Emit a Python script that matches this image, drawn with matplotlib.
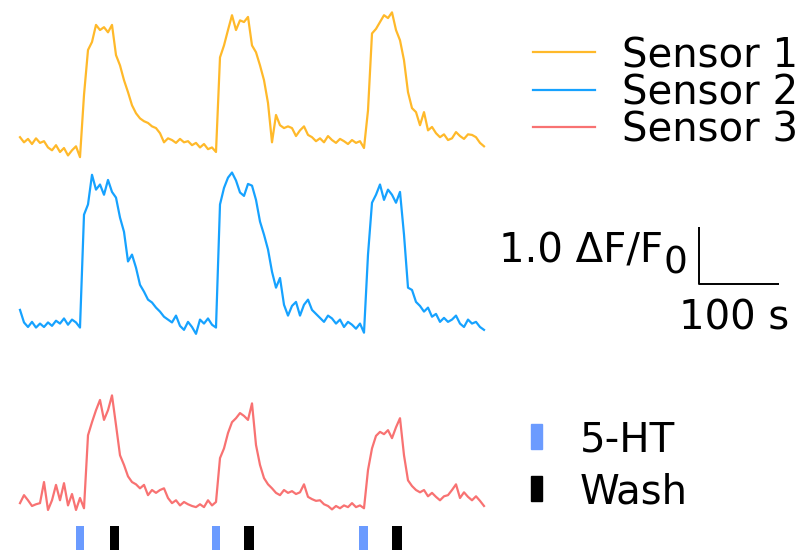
import numpy as np
import matplotlib
matplotlib.use('Agg')
import matplotlib.pyplot as plt
from matplotlib.patches import Rectangle

sample_step = 5.0
sensor1 = [0.14, 0.05, 0.11, 0.02, 0.12, 0.04, 0.07, -0.04, -0.09, 0.00, -0.12, -0.05, -0.18, -0.09, -0.02, -0.21,
           0.88, 1.67, 1.81, 2.11, 2.02, 2.07, 1.98, 2.11, 1.58, 1.40, 1.14, 0.93, 0.70, 0.56, 0.47, 0.42,
           0.39, 0.33, 0.30, 0.21, 0.05, 0.12, 0.09, 0.04, 0.11, 0.05, 0.07, 0.00, 0.04, -0.04, 0.02, -0.07,
           -0.04, -0.12, 1.54, 1.75, 2.02, 2.28, 2.02, 2.19, 2.16, 2.25, 1.75, 1.63, 1.40, 1.14, 0.74, 0.05,
           0.53, 0.35, 0.30, 0.33, 0.30, 0.16, 0.26, 0.33, 0.18, 0.14, 0.07, 0.12, 0.05, 0.16, 0.09, 0.04,
           0.11, 0.07, 0.02, 0.09, 0.04, 0.07, -0.05, 0.61, 1.96, 2.04, 2.16, 2.28, 2.23, 2.33, 2.02, 1.84,
           1.49, 0.93, 0.65, 0.58, 0.35, 0.58, 0.26, 0.32, 0.21, 0.14, 0.19, 0.09, 0.12, 0.23, 0.16, 0.11,
           0.19, 0.18, 0.14, 0.04, -0.02]
sensor2 = [0.26, 0.04, -0.04, 0.05, -0.05, 0.02, -0.04, 0.04, -0.02, 0.07, 0.02, 0.11, 0.00, 0.09, 0.04, -0.05,
           1.93, 2.11, 2.63, 2.37, 2.46, 2.28, 2.54, 2.33, 2.23, 1.88, 1.63, 1.11, 1.23, 1.00, 0.70, 0.58,
           0.44, 0.39, 0.30, 0.23, 0.14, 0.09, 0.04, 0.16, -0.02, -0.09, 0.05, -0.04, -0.16, 0.09, 0.02, 0.11,
           0.00, -0.05, 2.11, 2.40, 2.58, 2.67, 2.53, 2.32, 2.26, 2.47, 2.44, 2.19, 1.81, 1.58, 1.32, 0.93,
           0.65, 0.82, 0.35, 0.16, 0.33, 0.40, 0.16, 0.35, 0.44, 0.26, 0.19, 0.12, 0.05, 0.16, 0.11, 0.02,
           0.09, -0.04, 0.05, 0.00, -0.07, 0.02, -0.14, 1.23, 2.14, 2.28, 2.46, 2.19, 2.37, 2.28, 2.14, 2.33,
           1.58, 0.65, 0.61, 0.40, 0.33, 0.23, 0.30, 0.14, 0.19, 0.05, 0.12, 0.05, 0.09, 0.16, 0.02, -0.04,
           0.09, 0.02, 0.05, -0.04, -0.09]
sensor3 = [0.00, 0.14, 0.05, -0.05, -0.02, 0.00, 0.37, -0.12, 0.05, 0.32, 0.05, 0.35, -0.04, 0.16, -0.12, 0.09,
           -0.09, 1.19, 1.42, 1.63, 1.81, 1.46, 1.63, 1.89, 1.37, 0.84, 0.67, 0.47, 0.37, 0.33, 0.26, 0.32,
           0.14, 0.23, 0.18, 0.23, 0.26, 0.09, 0.00, 0.05, -0.04, 0.02, -0.02, -0.05, -0.07, -0.02, -0.07, 0.05,
           -0.04, 0.02, 0.79, 0.96, 1.23, 1.42, 1.49, 1.58, 1.53, 1.46, 1.75, 1.02, 0.67, 0.44, 0.33, 0.26,
           0.18, 0.14, 0.23, 0.18, 0.21, 0.16, 0.19, 0.33, 0.11, 0.07, 0.04, 0.05, -0.02, -0.05, -0.11, -0.05,
           -0.09, -0.04, -0.07, 0.00, -0.07, -0.04, -0.09, 0.58, 0.96, 1.18, 1.25, 1.21, 1.28, 1.14, 1.33, 1.49,
           0.84, 0.40, 0.30, 0.23, 0.19, 0.23, 0.12, 0.18, 0.11, 0.05, 0.12, 0.14, 0.23, 0.33, 0.09, 0.19,
           0.11, 0.05, 0.12, 0.04, -0.05]

labels = ['Sensor 1', 'Sensor 2', 'Sensor 3']
colors = ['#FFB92A', '#16A2FF', '#F87272']
offsets = [7.19, 4.04, 0.91]   # vertical stacking, in dF/F0

ht_times = [75, 245, 429]      # 5-HT application (s)
wash_times = [118, 286, 471]   # wash (s)

FS = 29
W, H = 810, 555
fig = plt.figure(figsize=(W / 100, H / 100), dpi=100)
ax = fig.add_axes([0, 0, 1, 1])
ax.set_xlim(-25, 987.5)
ax.set_ylim(0, H / 57)
ax.axis('off')


def fx(px):
    return px / W


def fy(py):
    return 1 - py / H


for vals, c, off in zip([sensor1, sensor2, sensor3], colors, offsets):
    t = np.arange(len(vals)) * sample_step
    ax.plot(t, np.array(vals) + off, color=c, lw=1.6, solid_joinstyle='round')

# stimulus markers
ax.bar(ht_times, 0.42, bottom=0.09, width=11, color='#6B9BFF')
ax.bar(wash_times, 0.42, bottom=0.09, width=12, color='black')

# scale bar: 1.0 dF/F0 and 100 s
x0, y0 = 848.75, 4.75
ax.plot([x0, x0, x0 + 100], [y0 + 1.0, y0, y0], color='black', lw=1.4, solid_capstyle='butt')
fig.text(fx(663), fy(263), '1.0 ΔF/F', fontsize=FS, ha='right', va='baseline')
fig.text(fx(663), fy(273), '0', fontsize=FS - 2, ha='left', va='baseline')
fig.text(fx(789), fy(330), '100 s', fontsize=FS, ha='right', va='baseline')

# sensor legend
for i, (lab, c) in enumerate(zip(labels, colors)):
    ly = 52 + i * 37.5
    fig.add_artist(plt.Line2D([fx(533), fx(595)], [fy(ly), fy(ly)], color=c, lw=1.6,
                              transform=fig.transFigure))
    fig.text(fx(622), fy(ly + 15), lab, fontsize=FS, ha='left', va='baseline')

# stimulus legend
for ly, c, lab in [(424, '#6B9BFF', '5-HT'), (476, 'black', 'Wash')]:
    fig.add_artist(Rectangle((fx(531), fy(ly + 25)), 11 / W, 25 / H, color=c,
                             transform=fig.transFigure))
    fig.text(fx(580), fy(ly + 27), lab, fontsize=FS, ha='left', va='baseline')

fig.savefig('out.png', dpi=100)
